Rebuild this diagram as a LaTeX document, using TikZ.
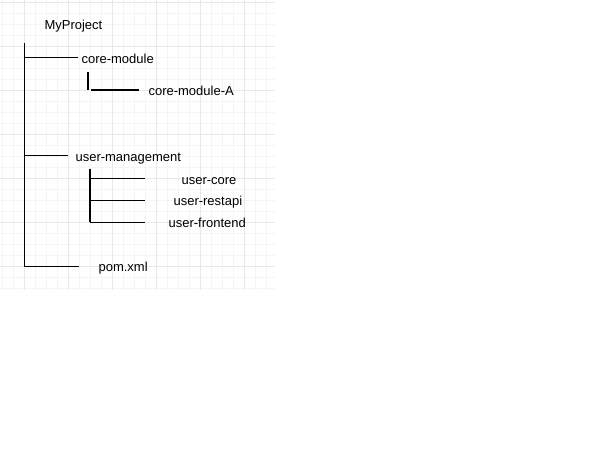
\documentclass[tikz,border=0pt]{standalone}
\usepackage{fontspec}
\setmainfont{Liberation Sans}

\begin{document}
\begin{tikzpicture}[x=1pt,y=-1pt,font=\fontsize{13}{15}\selectfont,line width=1.1pt]

\useasboundingbox (0,0) rectangle (614,460);

% background grid
\foreach \x in {2.3,13.3,...,275} \draw [line width=0.6pt,black!4] (\x,0) -- (\x,290);
\foreach \y in {2.7,13.7,...,290} \draw [line width=0.6pt,black!4] (0,\y) -- (275,\y);
\foreach \x in {24.3,68.3,...,275} \draw [line width=0.6pt,black!9] (\x,0) -- (\x,290);
\foreach \y in {2.7,46.7,...,290} \draw [line width=0.6pt,black!9] (0,\y) -- (275,\y);

\node [anchor=base west,inner sep=0] (p)   at ( 44, 29.5) {MyProject};
\node [anchor=base west,inner sep=0] (c)   at ( 81, 63.3) {core-module};
\node [anchor=base west,inner sep=0] (ca)  at (148, 95.7) {core-module-A};
\node [anchor=base west,inner sep=0] (u)   at ( 75,161.7) {user-management};
\node [anchor=base west,inner sep=0] (u1)  at (181,184.0) {user-core};
\node [anchor=base west,inner sep=0] (u2)  at (173,205.7) {user-restapi};
\node [anchor=base west,inner sep=0] (u3)  at (168,227.3) {user-frontend};
\node [anchor=base west,inner sep=0] (pom) at ( 98,271.7) {pom.xml};

\coordinate (r0) at (24.5, 43);
\coordinate (r1) at (24.5,267);
\draw (r0) to (r1);

\coordinate (c0) at (24.5,57.5);
\coordinate (c1) at (78,57.5);
\draw (c0) to (c1);

\coordinate (ca0) at (88,72);
\coordinate (ca1) at (88,90);
\coordinate (ca2) at (91,90);
\coordinate (ca3) at (139,90);
\draw (ca0) to (ca1);
\draw (ca2) to (ca3);

\coordinate (u0) at (24.5,155.7);
\coordinate (u4) at (68,155.7);
\draw (u0) to (u4);

\coordinate (s0) at (90,169.3);
\coordinate (s4) at (90,222.3);
\draw (s0) to (s4);

\foreach \i/\y in {1/178.3,2/200.3,3/222.3} {
\coordinate (s\i) at (90,\y);
\coordinate (t\i) at (145,\y);
\draw (s\i) to (t\i);
}

\coordinate (pom0) at (24.5,266.5);
\coordinate (pom1) at (79,266.5);
\draw (pom0) to (pom1);

\end{tikzpicture}
\end{document}
